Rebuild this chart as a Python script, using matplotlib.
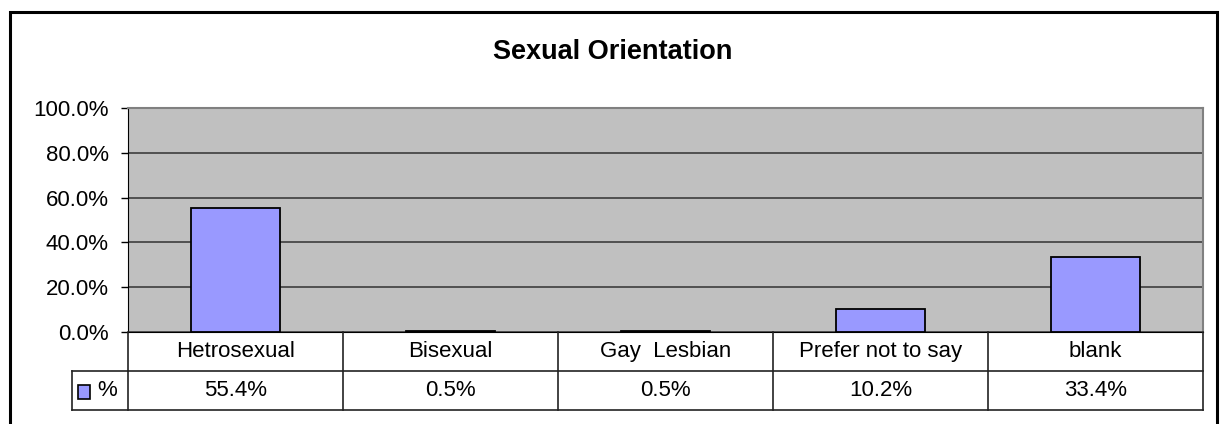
import matplotlib.pyplot as plt
from matplotlib.patches import Rectangle
from matplotlib.ticker import FuncFormatter
import numpy as np

plt.rcParams['font.family'] = ['Liberation Sans', 'DejaVu Sans']

categories = ["Hetrosexual", "Bisexual", "Gay  Lesbian", "Prefer not to say", "blank"]
values = [55.4, 0.5, 0.5, 10.2, 33.4]
series_name = "%"
title = "Sexual Orientation"

W, H = 1222, 424
bar_color = "#9999FF"

def fx(px):
    return px / W

def fy(py):
    return 1 - py / H

fig = plt.figure(figsize=(W / 100, H / 100), dpi=100)

# outer chart border
fig.patches.append(Rectangle((fx(10), fy(440)), fx(1217) - fx(10), fy(12) - fy(440),
                             transform=fig.transFigure, fill=False, edgecolor="black",
                             linewidth=2.2, clip_on=False))

left, right, top, bottom = 128, 1203, 108, 332
ax = fig.add_axes([fx(left), fy(bottom), fx(right) - fx(left), fy(top) - fy(bottom)])
ax.set_facecolor("#C0C0C0")

x = np.arange(len(categories)) + 0.5
ax.bar(x, values, width=0.41, color=bar_color, edgecolor="black", linewidth=1.3, zorder=3)
ax.set_xlim(0, len(categories))
ax.set_ylim(0, 100)
ax.set_yticks(np.arange(0, 101, 20))
ax.yaxis.set_major_formatter(FuncFormatter(lambda v, p: f"{v:.1f}%"))
ax.yaxis.grid(True, color="#333333", linewidth=1.1, zorder=1)
ax.set_axisbelow(True)
ax.set_xticks([])
ax.tick_params(axis="y", length=5, width=1, color="black", pad=9, labelsize=16)
for s in ["top", "right"]:
    ax.spines[s].set_color("#808080")
    ax.spines[s].set_linewidth(1.5)
ax.spines["left"].set_color("black")
ax.spines["bottom"].set_color("black")

fig.text(fx(613), fy(52), title, ha="center", va="center", fontsize=19.5, fontweight="bold")

# data table below the plot
legend_left = 72
row_h = 39
tab = fig.add_axes([fx(legend_left), fy(bottom + 2 * row_h), fx(right) - fx(legend_left),
                    fy(bottom) - fy(bottom + 2 * row_h)])
x0 = -(left - legend_left) / ((right - left) / len(categories))
tab.set_xlim(x0, len(categories))
tab.set_ylim(0, 2)
tab.axis("off")
lc = "#222222"
lw = 1.2
tab.plot([0, len(categories)], [1, 1], color=lc, lw=lw, clip_on=False)
tab.plot([x0, len(categories)], [0, 0], color=lc, lw=lw, clip_on=False)
tab.plot([x0, 0], [1, 1], color=lc, lw=lw, clip_on=False)
tab.plot([x0, x0], [0, 1], color=lc, lw=lw, clip_on=False)
for i in range(len(categories) + 1):
    tab.plot([i, i], [0, 2], color=lc, lw=lw, clip_on=False)
for i, (c, v) in enumerate(zip(categories, values)):
    tab.text(i + 0.5, 1.5, c, ha="center", va="center", fontsize=16)
    tab.text(i + 0.5, 0.5, f"{v:.1f}%", ha="center", va="center", fontsize=16)

# legend key in table
key_w = 12 / ((right - left) / len(categories))
tab.add_patch(Rectangle((x0 + 6 / 215 * 1.0, 0.28), key_w, 0.36, facecolor=bar_color,
                        edgecolor="black", linewidth=1.2, clip_on=False))
tab.text(x0 + 25 / 215, 0.5, series_name, ha="left", va="center", fontsize=16)

fig.savefig("out.png", dpi=100)
